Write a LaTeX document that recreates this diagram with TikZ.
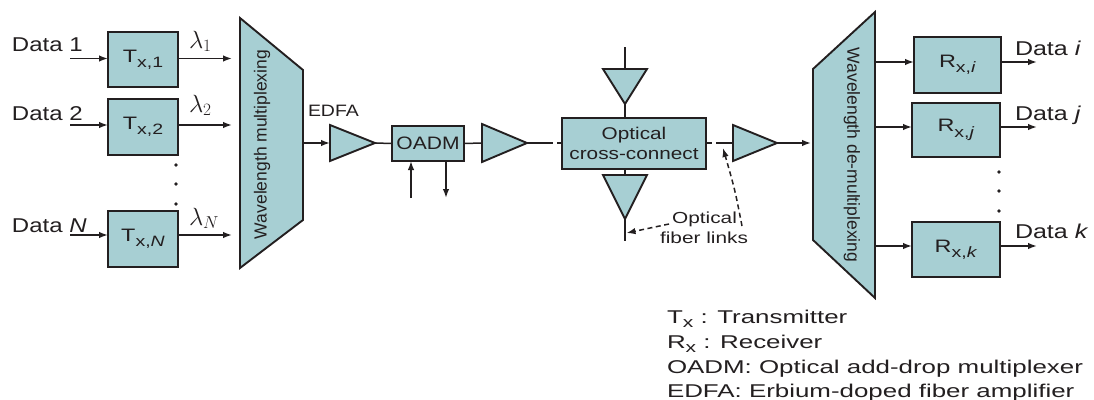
\documentclass[tikz,border=0pt]{standalone}
\usepackage{graphicx}
\usepackage{fontspec}
\setmainfont{Liberation Sans}
\usetikzlibrary{arrows.meta}
\definecolor{boxfill}{RGB}{167,207,211}
\definecolor{ink}{RGB}{35,31,32}
\newcommand{\hx}[2]{\scalebox{#1}[1]{#2}}
\newcommand{\mysub}[1]{\raisebox{-0.3em}{\fontsize{15}{15}\selectfont #1}}
\begin{document}
\begin{tikzpicture}[x=1pt,y=-1pt,
  box/.style={draw=ink, line width=1.9pt, fill=boxfill, inner sep=0pt, outer sep=0pt, text=ink},
  arr/.style={-{Latex[length=9pt,width=6.5pt]}, line width=1.5pt, draw=ink},
  darr/.style={-{Latex[length=9pt,width=6.5pt]}, line width=1.5pt, draw=ink, dash pattern=on 5pt off 3.5pt},
  ln/.style={line width=1.5pt, draw=ink},
  shp/.style={draw=ink, line width=1.9pt, fill=boxfill, line join=miter},
  lbl/.style={inner sep=0pt, outer sep=0pt, text=ink},
  dot/.style={fill=ink, draw=none}]
\useasboundingbox (0,0) rectangle (1094,399);

% ---------- transmitters ----------
\node[box, minimum width=70pt, minimum height=55pt, font=\fontsize{18}{20}\selectfont] (tx1) at (143,59.5) {\hx{1.3}{T\mysub{x,1}}};
\node[box, minimum width=70pt, minimum height=56pt, font=\fontsize{18}{20}\selectfont] (tx2) at (143,127) {\hx{1.3}{T\mysub{x,2}}};
\node[box, minimum width=70pt, minimum height=56pt, font=\fontsize{18}{20}\selectfont] (txn) at (143,239) {\hx{1.3}{T\mysub{x,\textit{N}}}};

\node[lbl, anchor=base west, font=\fontsize{20}{24}\selectfont] (dl1) at (12,51.7) {\hx{1.2}{Data 1}};
\node[lbl, anchor=base west, font=\fontsize{20}{24}\selectfont] (dl2) at (12,120) {\hx{1.2}{Data 2}};
\node[lbl, anchor=base west, font=\fontsize{20}{24}\selectfont] (dln) at (12,232) {\hx{1.2}{Data \textit{N}}};

\coordinate (d1) at (70,58.5);
\coordinate (d2) at (70,125);
\coordinate (dn) at (70,235);
\draw[arr] (d1) -- (d1 -| tx1.west);
\draw[arr] (d2) -- (d2 -| tx2.west);
\draw[arr] (dn) -- (dn -| txn.west);

\coordinate (m1) at (232,58.5);
\coordinate (m2) at (232,125);
\coordinate (mn) at (232,235);
\draw[arr] (m1 -| tx1.east) -- (m1);
\draw[arr] (m2 -| tx2.east) -- (m2);
\draw[arr] (mn -| txn.east) -- (mn);

\node[lbl, anchor=base west, font=\fontsize{25}{28}\selectfont] (l1) at (189,48) {$\lambda_1$};
\node[lbl, anchor=base west, font=\fontsize{25}{28}\selectfont] (l2) at (189,112) {$\lambda_2$};
\node[lbl, anchor=base west, font=\fontsize{25}{28}\selectfont] (ln) at (189,225) {$\lambda_N$};

\fill[dot] (176,165) circle (1.8);
\fill[dot] (176,184) circle (1.8);
\fill[dot] (176,204) circle (1.8);

% ---------- multiplexer ----------
\draw[shp] (240,18) -- (303,70) -- (303,220) -- (240,268) -- cycle;
\node[lbl, rotate=90, font=\fontsize{17.5}{20}\selectfont] (muxt) at (262,144.5) {Wavelength multiplexing};
\coordinate (muxo) at (303,143);

% ---------- EDFA ----------
\draw[shp] (330,125) -- (375,143) -- (330,161) -- cycle;
\coordinate (a1b) at (330,143);
\coordinate (a1t) at (375,143);
\draw[arr] (muxo) -- (a1b);
\node[lbl, anchor=base west, font=\fontsize{16.5}{20}\selectfont] (edfa) at (308,116.5) {\hx{1.18}{EDFA}};

% ---------- OADM ----------
\node[box, minimum width=72pt, minimum height=35pt, font=\fontsize{18}{20}\selectfont] (oadm) at (428,143.5) {\hx{1.17}{OADM}};
\draw[ln] (a1t) -- (oadm.west);
\coordinate (add) at (411,198);
\coordinate (drop) at (446,198);
\draw[arr] (add) -- (add |- oadm.south);
\draw[arr] (drop |- oadm.south) -- (drop);

% ---------- amplifier 2 ----------
\draw[shp] (482,124) -- (527,143) -- (482,162) -- cycle;
\coordinate (a2b) at (482,143);
\coordinate (a2t) at (527,143);
\draw[ln] (oadm.east) -- (a2b);

% ---------- optical cross-connect ----------
\node[box, minimum width=144pt, minimum height=51pt, align=center, font=\fontsize{17}{20.7}\selectfont] (oxc) at (634,143.5) {\hx{1.22}{Optical}\\\hx{1.22}{cross-connect}};
\draw[ln, dash pattern=on 26pt off 4pt on 10pt] (a2t) -- (a2t -| oxc.west);

% top amplifier
\coordinate (t0) at (625,47);
\coordinate (ta) at (625,69);
\coordinate (tb) at (625,104);
\draw[shp] (603,69) -- (647,69) -- (625,104) -- cycle;
\draw[ln] (t0) -- (ta);
\draw[ln] (tb) -- (tb |- oxc.north);

% bottom amplifier
\coordinate (ba) at (625,175);
\coordinate (bb) at (625,219);
\coordinate (b0) at (625,241);
\draw[shp] (603,175) -- (647,175) -- (625,219) -- cycle;
\draw[ln] (ba |- oxc.south) -- (ba);
\draw[ln] (bb) -- (b0);

% ---------- amplifier 3 ----------
\draw[shp] (733,125) -- (777,143) -- (733,161) -- cycle;
\coordinate (a3b) at (733,143);
\coordinate (a3t) at (777,143);
\draw[ln, dash pattern=on 6pt off 4pt on 30pt] (a3b -| oxc.east) -- (a3b);
\coordinate (dmx) at (811,143);
\draw[arr] (a3t) -- (dmx);

% fiber link labels
\node[lbl, anchor=base, font=\fontsize{16}{20}\selectfont] (ofl1) at (704.5,223) {\hx{1.3}{Optical}};
\node[lbl, anchor=base, font=\fontsize{16}{20}\selectfont] (ofl2) at (704,243) {\hx{1.3}{fiber links}};
\coordinate (f1s) at (669,224);
\coordinate (f1e) at (626.5,233);
\draw[darr] (f1s) -- (f1e);
\coordinate (f2s) at (742,226);
\coordinate (f2e) at (723,148);
\draw[darr] (f2s) .. controls (735,190) .. (f2e);

% ---------- demultiplexer ----------
\draw[shp] (875,12) -- (875,298) -- (813,240) -- (813,69) -- cycle;
\node[lbl, rotate=-90, font=\fontsize{17.5}{20}\selectfont] (dmxt) at (852,155) {Wavelength de-multiplexing};

% ---------- receivers ----------
\node[box, minimum width=87pt, minimum height=56pt, font=\fontsize{18}{20}\selectfont] (rxi) at (957.5,65) {\hx{1.3}{R\mysub{x,\textit{i}}}};
\node[box, minimum width=88pt, minimum height=54pt, font=\fontsize{18}{20}\selectfont] (rxj) at (956,130) {\hx{1.3}{R\mysub{x,\textit{j}}}};
\node[box, minimum width=88pt, minimum height=55pt, font=\fontsize{18}{20}\selectfont] (rxk) at (956,249.5) {\hx{1.3}{R\mysub{x,\textit{k}}}};

\coordinate (ri) at (875,62);
\coordinate (rj) at (875,127);
\coordinate (rk) at (875,246);
\draw[arr] (ri) -- (ri -| rxi.west);
\draw[arr] (rj) -- (rj -| rxj.west);
\draw[arr] (rk) -- (rk -| rxk.west);

\coordinate (oi) at (1037,62);
\coordinate (oj) at (1037,127);
\coordinate (ok) at (1037,246);
\draw[arr] (oi -| rxi.east) -- (oi);
\draw[arr] (oj -| rxj.east) -- (oj);
\draw[arr] (ok -| rxk.east) -- (ok);

\node[lbl, anchor=base west, font=\fontsize{20}{24}\selectfont] (doi) at (1015,55) {\hx{1.25}{Data \textit{i}}};
\node[lbl, anchor=base west, font=\fontsize{20}{24}\selectfont] (doj) at (1015,120) {\hx{1.25}{Data \textit{j}}};
\node[lbl, anchor=base west, font=\fontsize{20}{24}\selectfont] (dok) at (1015,238) {\hx{1.25}{Data \textit{k}}};

\fill[dot] (999,172) circle (1.8);
\fill[dot] (999,191) circle (1.8);
\fill[dot] (999,211) circle (1.8);

% ---------- legend ----------
\node[lbl, anchor=base west, font=\fontsize{18.5}{22}\selectfont] (lg1) at (667,323) {\hx{1.4}{T\raisebox{-0.25em}{\fontsize{15}{15}\selectfont x} : Transmitter}};
\node[lbl, anchor=base west, font=\fontsize{18.5}{22}\selectfont] (lg2) at (667,348) {\hx{1.4}{R\raisebox{-0.25em}{\fontsize{15}{15}\selectfont x} : Receiver}};
\node[lbl, anchor=base west, font=\fontsize{18.5}{22}\selectfont] (lg3) at (667,373) {\hx{1.4}{OADM: Optical add-drop multiplexer}};
\node[lbl, anchor=base west, font=\fontsize{18.5}{22}\selectfont] (lg4) at (667,397) {\hx{1.4}{EDFA: Erbium-doped fiber amplifier}};
\end{tikzpicture}
\end{document}
